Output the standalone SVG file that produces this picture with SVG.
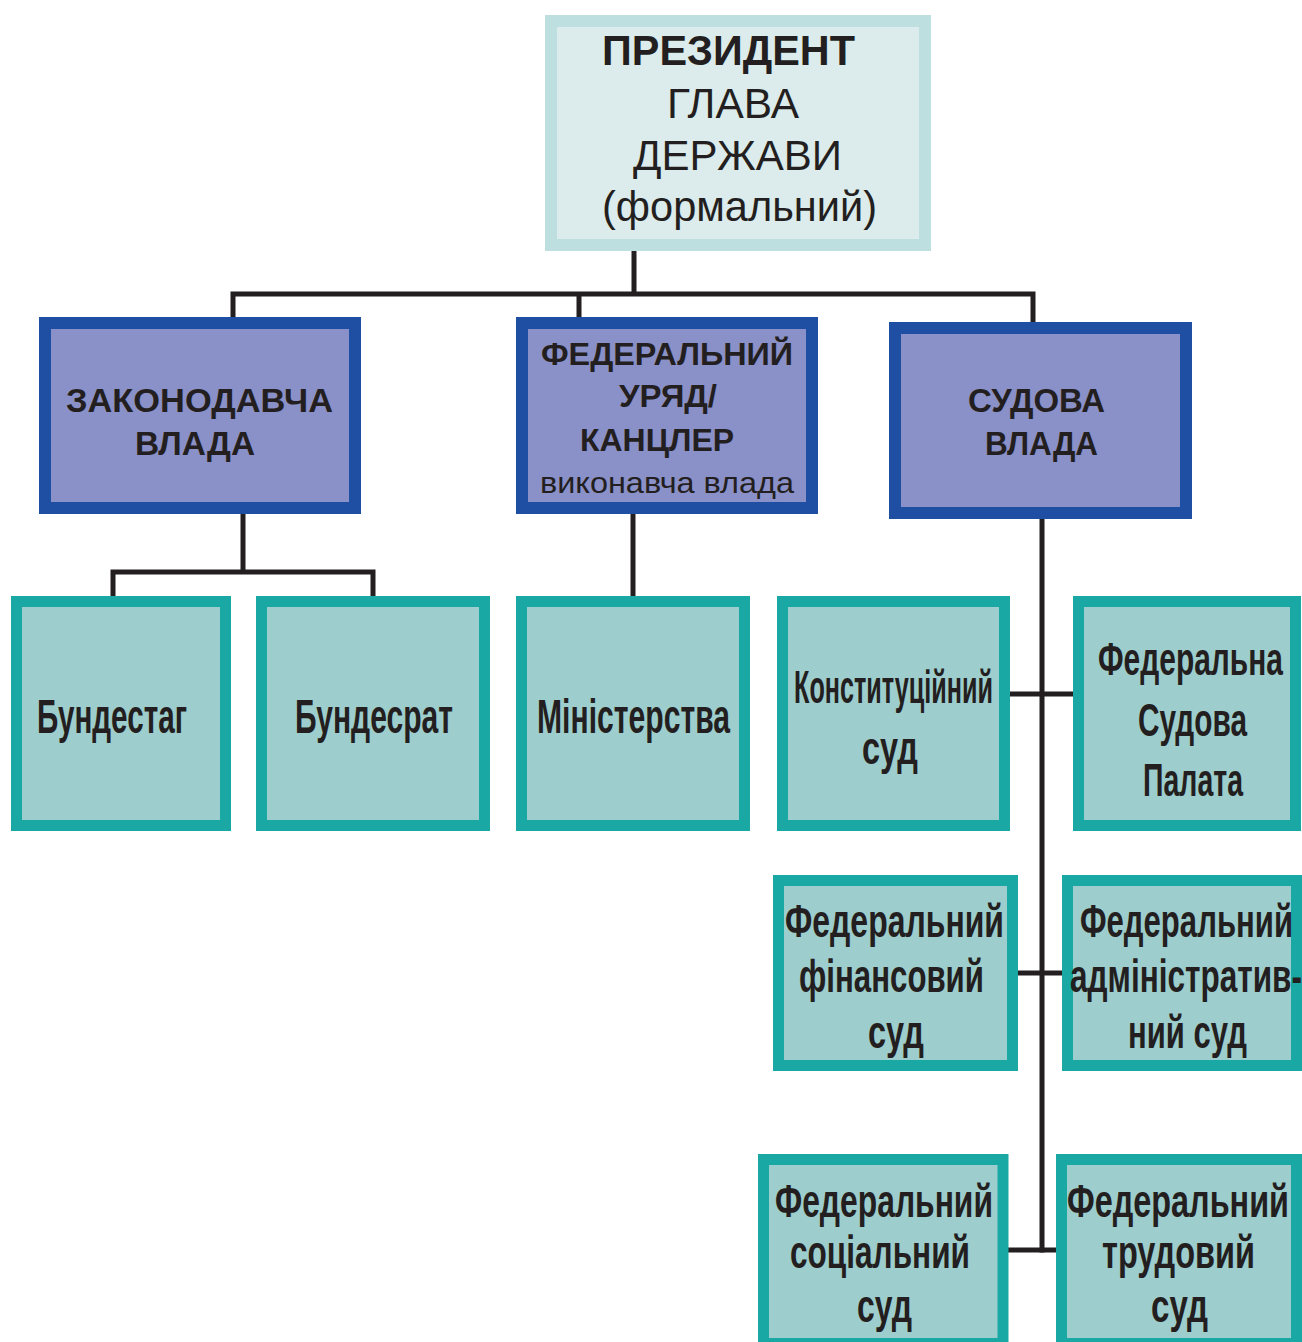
<svg xmlns="http://www.w3.org/2000/svg" width="1302" height="1342" viewBox="0 0 1302 1342">
<style>
  .pres{fill:#dcebeb;stroke:#bddfdf;stroke-width:12}
  .blue{fill:#8a90c8;stroke:#1f4fa3;stroke-width:12}
  .teal{fill:#9ecdcd;stroke:#1aa8a5;stroke-width:11}
  .conn{stroke:#231f20;stroke-width:5;fill:none;stroke-linecap:butt}
  text{fill:#231f20;text-anchor:middle}
  .w{font-family:"Liberation Sans",Arial,sans-serif}
  .wb{font-family:"Liberation Sans",Arial,sans-serif;font-weight:bold}
  .n{font-family:"Liberation Sans Narrow","Liberation Sans",Arial,sans-serif;font-weight:bold;font-size:47px}
  .n2{font-size:49px}
</style>
<rect width="1302" height="1342" fill="#ffffff"/>

<g id="connectors">
  <path class="conn" d="M634 251V294M230.5 294H1035.5M233 294V317M579 294V317M1033 294V322"/>
  <path class="conn" d="M243 514V572M110.5 572H375.5M113 572V596M373 572V596"/>
  <path class="conn" d="M633 514V596"/>
  <path class="conn" d="M1042 519V1252.5"/>
  <path class="conn" d="M1010 694H1073M1018 973H1071M1008 1250H1073"/>
</g>

<g id="president">
  <rect class="pres" x="551" y="21" width="374" height="224"/>
  <text class="wb" x="728.5" y="65" font-size="42" textLength="253" lengthAdjust="spacingAndGlyphs">ПРЕЗИДЕНТ</text>
  <text class="w" x="733" y="118" font-size="42" textLength="132" lengthAdjust="spacingAndGlyphs">ГЛАВА</text>
  <text class="w" x="737.5" y="170" font-size="42" textLength="209" lengthAdjust="spacingAndGlyphs">ДЕРЖАВИ</text>
  <text class="w" x="739.5" y="221" font-size="42" textLength="275" lengthAdjust="spacingAndGlyphs">(формальний)</text>
</g>

<g id="legislative">
  <rect class="blue" x="45" y="323" width="310" height="185"/>
  <text class="wb" x="199.5" y="412" font-size="34" textLength="267" lengthAdjust="spacingAndGlyphs">ЗАКОНОДАВЧА</text>
  <text class="wb" x="195" y="455" font-size="34" textLength="120" lengthAdjust="spacingAndGlyphs">ВЛАДА</text>
</g>

<g id="government">
  <rect class="blue" x="522" y="323" width="290" height="185"/>
  <text class="wb" x="667" y="365" font-size="31" textLength="252" lengthAdjust="spacingAndGlyphs">ФЕДЕРАЛЬНИЙ</text>
  <text class="wb" x="668" y="407" font-size="31" textLength="98" lengthAdjust="spacingAndGlyphs">УРЯД/</text>
  <text class="wb" x="657" y="451" font-size="31" textLength="154" lengthAdjust="spacingAndGlyphs">КАНЦЛЕР</text>
  <text class="w" x="667" y="493" font-size="30" textLength="254" lengthAdjust="spacingAndGlyphs">виконавча влада</text>
</g>

<g id="judiciary">
  <rect class="blue" x="895" y="328" width="291" height="185"/>
  <text class="wb" x="1036.5" y="412" font-size="34" textLength="137" lengthAdjust="spacingAndGlyphs">СУДОВА</text>
  <text class="wb" x="1041.5" y="455" font-size="34" textLength="113" lengthAdjust="spacingAndGlyphs">ВЛАДА</text>
</g>

<g id="bundestag">
  <rect class="teal" x="16.5" y="601.5" width="209" height="224"/>
  <text class="n n2" x="112" y="733" textLength="150" lengthAdjust="spacingAndGlyphs">Бундестаг</text>
</g>

<g id="bundesrat">
  <rect class="teal" x="261.5" y="601.5" width="223" height="224"/>
  <text class="n n2" x="374" y="733" textLength="158" lengthAdjust="spacingAndGlyphs">Бундесрат</text>
</g>

<g id="ministries">
  <rect class="teal" x="521.5" y="601.5" width="223" height="224"/>
  <text class="n n2" x="633.5" y="733" textLength="193" lengthAdjust="spacingAndGlyphs">Міністерства</text>
</g>

<g id="constitutional-court">
  <rect class="teal" x="782.5" y="601.5" width="222" height="224"/>
  <text class="n" x="893.5" y="703" textLength="199" lengthAdjust="spacingAndGlyphs">Конституційний</text>
  <text class="n" x="890" y="764" textLength="56" lengthAdjust="spacingAndGlyphs">суд</text>
</g>

<g id="federal-court-chamber">
  <rect class="teal" x="1078.5" y="601.5" width="217" height="224"/>
  <text class="n" x="1190.5" y="675" textLength="185" lengthAdjust="spacingAndGlyphs">Федеральна</text>
  <text class="n" x="1192.5" y="736" textLength="109" lengthAdjust="spacingAndGlyphs">Судова</text>
  <text class="n" x="1193" y="796" textLength="100" lengthAdjust="spacingAndGlyphs">Палата</text>
</g>

<g id="finance-court">
  <rect class="teal" x="778.5" y="880.5" width="234" height="185"/>
  <text class="n" x="894.5" y="937" textLength="219" lengthAdjust="spacingAndGlyphs">Федеральний</text>
  <text class="n" x="891.5" y="992" textLength="185" lengthAdjust="spacingAndGlyphs">фінансовий</text>
  <text class="n" x="896" y="1048" textLength="56" lengthAdjust="spacingAndGlyphs">суд</text>
</g>

<g id="administrative-court">
  <rect class="teal" x="1067.5" y="880.5" width="229" height="185"/>
  <text class="n" x="1186.5" y="937" textLength="213" lengthAdjust="spacingAndGlyphs">Федеральний</text>
  <text class="n" x="1186" y="992" textLength="232" lengthAdjust="spacingAndGlyphs">адміністратив-</text>
  <text class="n" x="1187.5" y="1048" textLength="119" lengthAdjust="spacingAndGlyphs">ний суд</text>
</g>

<g id="social-court">
  <rect class="teal" x="763.5" y="1159.5" width="239.5" height="184"/>
  <text class="n" x="884" y="1217" textLength="218" lengthAdjust="spacingAndGlyphs">Федеральний</text>
  <text class="n" x="880" y="1268" textLength="180" lengthAdjust="spacingAndGlyphs">соціальний</text>
  <text class="n" x="884.5" y="1322" textLength="55" lengthAdjust="spacingAndGlyphs">суд</text>
</g>

<g id="labour-court">
  <rect class="teal" x="1061.5" y="1159.5" width="235" height="184"/>
  <text class="n" x="1178" y="1217" textLength="222" lengthAdjust="spacingAndGlyphs">Федеральний</text>
  <text class="n" x="1178.5" y="1268" textLength="153" lengthAdjust="spacingAndGlyphs">трудовий</text>
  <text class="n" x="1179.5" y="1322" textLength="57" lengthAdjust="spacingAndGlyphs">суд</text>
</g>
</svg>
